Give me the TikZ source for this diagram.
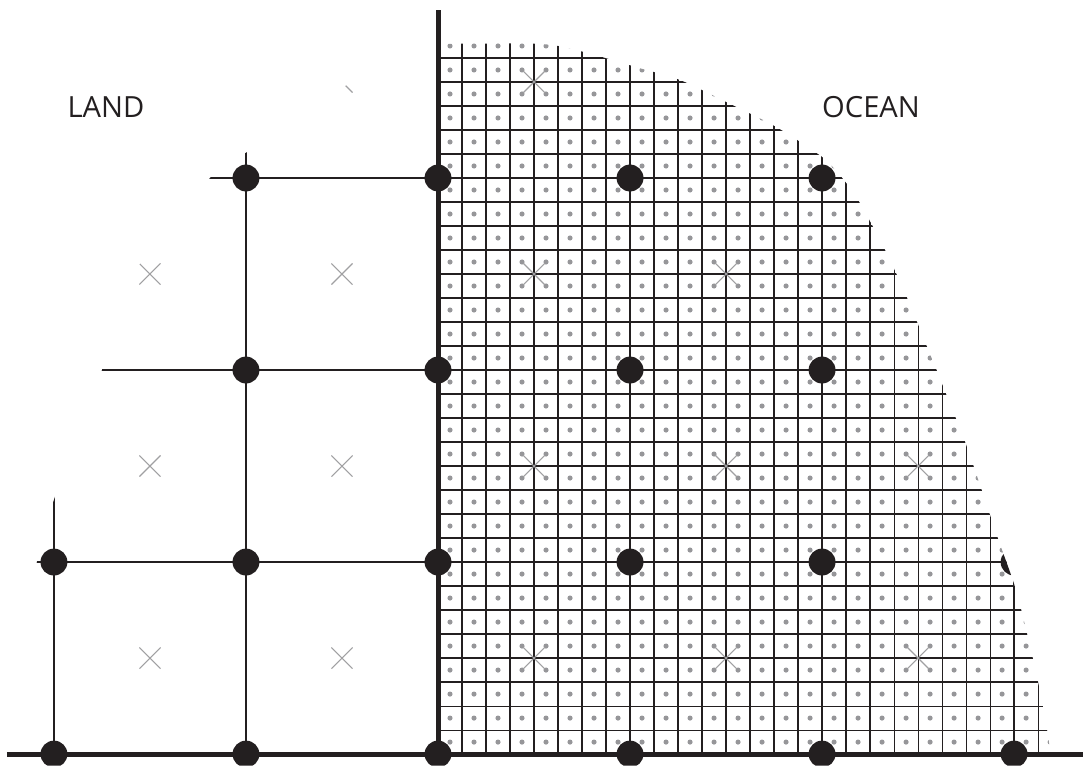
\documentclass[tikz,border=0pt]{standalone}
\usepackage{fontspec}
\setmainfont{Open Sans}
\definecolor{ink}{RGB}{35,31,32}
\definecolor{dotgray}{RGB}{150,150,153}
\definecolor{crossgray}{RGB}{160,160,162}
\tikzset{
  coarse/.style={line width=0.85pt, draw=ink},
  heavy/.style={line width=1.85pt, draw=ink},
  fine/.style={line width=0.42pt, draw=ink},
  cross/.style={line width=0.4pt, draw=crossgray},
  areatext/.style={font=\fontsize{10.8}{13}\selectfont, text=ink, inner sep=0pt}
}
\begin{document}
\begin{tikzpicture}[x=2.5cm,y=2.5cm]
  \useasboundingbox (-2.281,-0.057) rectangle (3.359,3.927);
  % coastline (vertical) and bottom line, both heavy
  \draw[heavy] (0,0) -- (0,3.875);
  \draw[heavy] (-2.245,0) -- (3.36,0);
  \begin{scope}
    % cut everything to the land curve on the left and the ocean curve on the right
    \clip plot[smooth] coordinates {(-2.281,-0.06) (-2.245,0) (-2.089,1) (-1.995,1.339)
        (-1.75,2) (-1.62,2.45) (-1.1875,3) (-0.995,3.135) (-0.49,3.475) (0,3.75)}
      -- plot[smooth] coordinates {(0,3.698) (0.531,3.698) (0.760,3.656) (1.010,3.583)
        (1.260,3.510) (1.510,3.391) (1.760,3.266) (2.000,3.109) (2.104,3.0) (2.188,2.885)
        (2.328,2.625) (2.443,2.375) (2.547,2.120) (2.646,1.875) (2.745,1.625) (2.833,1.370)
        (2.917,1.120) (3.005,0.870) (3.068,0.625) (3.125,0.375) (3.172,0.125) (3.198,-0.06)}
      -- cycle;
    % fine ocean grid, one grey dot per cell
    \begin{scope}
      \clip (0,0) rectangle (3.4,4);
      \draw[fine, step=0.125] (0,0) grid (3.4,4);
      \foreach \i in {0,...,26} {
        \foreach \j in {0,...,29} {
          \fill[dotgray] (0.0625+0.125*\i,0.0625+0.125*\j) circle (0.95pt);
        }
      }
    \end{scope}
    % coarse grid lines
    \foreach \v in {1,2,3}
      \draw[coarse] (-2.4,\v) -- (3.4,\v);
    \foreach \u in {-2,-1,1,2,3}
      \draw[coarse] (\u,0) -- (\u,4);
    % grey crosses at the coarse cell centres
    \foreach \u in {-1.5,-0.5,0.5,1.5,2.5} {
      \foreach \v in {0.5,1.5,2.5,3.5} {
        \draw[cross] (\u-0.055,\v-0.055) -- (\u+0.055,\v+0.055)
                     (\u-0.055,\v+0.055) -- (\u+0.055,\v-0.055);
      }
    }
    % big dots on the coarse nodes
    \foreach \u in {-2,...,3} {
      \foreach \v in {0,...,3}
        \fill[ink] (\u,\v) circle (0.07);
    }
  \end{scope}
  \node[areatext] (land) at (-1.729,3.37) {LAND};
  \node[areatext] (ocean) at (2.255,3.37) {OCEAN};
\end{tikzpicture}
\end{document}
